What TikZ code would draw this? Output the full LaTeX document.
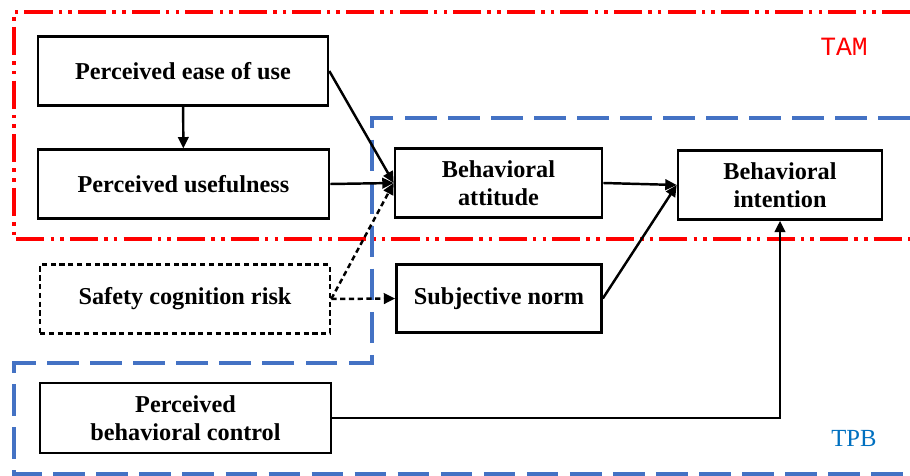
\documentclass[tikz,border=0pt]{standalone}
\usepackage{fontspec}
\setmainfont{Liberation Serif}
\setmonofont{Liberation Mono}
\usepackage{tikz}
\usetikzlibrary{arrows.meta,positioning}
\definecolor{tamred}{HTML}{FF0000}
\definecolor{tpbblue}{HTML}{4472C4}
\definecolor{tpbtext}{HTML}{0070C0}

\begin{document}
\begin{tikzpicture}[x=0.02cm,y=-0.02cm,
  varbox/.style={draw,line width=1.5pt,align=center,inner sep=0pt,
    font=\fontsize{13.8}{16}\selectfont\bfseries,minimum height=1.37cm},
  link/.style={line width=1.4pt,-{Triangle[length=6.5pt,width=6pt]}},
  dlink/.style={link,dash pattern=on 3pt off 2pt}]
\useasboundingbox (0,0) rectangle (910,476);
% frames
\draw[tamred,line width=2.4pt,dash pattern=on 16pt off 3.5pt on 2pt off 3.5pt on 2pt off 3.5pt]
  (910,12) -- (14,12) -- (14,239) -- (910,239);
\draw[tpbblue,line width=2.4pt,dash pattern=on 18pt off 6.5pt]
  (910,118) -- (372,118) -- (372,363) -- (14,363) -- (14,474) -- (910,474);
\node[tamred,font=\ttfamily\fontsize{15}{15}\selectfont] (tam) at (844,47) {TAM};
\node[tpbtext,font=\fontsize{14}{14}\selectfont] (tpb) at (854,438) {TPB};
% variables
\node[varbox,minimum width=5.8cm] (peou) at (183,71) {Perceived ease of use};
\node[varbox,minimum width=5.82cm] (pu) at (183.5,184) {Perceived usefulness};
\node[varbox,minimum width=5.8cm,dash pattern=on 3pt off 2pt] (scr) at (185,299) {Safety cognition risk};
\node[varbox,minimum width=5.82cm,minimum height=1.4cm] (pbc) at (185.5,418) {Perceived\\behavioral control};
\node[varbox,minimum width=4.14cm] (ba) at (498.5,183) {Behavioral\\attitude};
\node[varbox,minimum width=4.1cm] (sn) at (499,298.5) {Subjective norm};
\node[varbox,minimum width=4.08cm,minimum height=1.38cm] (bi) at (780,185) {Behavioral\\intention};
% paths
\draw[link] (peou) -- (pu);
\draw[link] (peou.east) -- (ba.west);
\draw[link] (pu.east) -- (ba.west);
\draw[dlink] (scr.east) -- (ba.west);
\draw[dlink] (scr.east) -- (sn.west);
\draw[link] (ba.east) -- (bi.west);
\draw[link] (sn.east) -- (bi.west);
\draw[link] (pbc.east) -| (bi.south);
\end{tikzpicture}
\end{document}
